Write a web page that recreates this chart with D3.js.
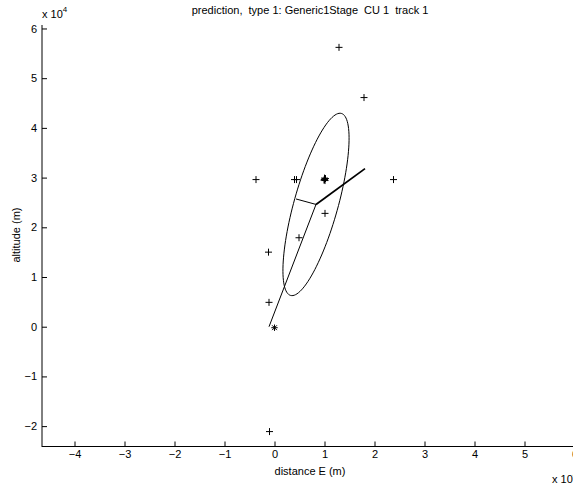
<!DOCTYPE html>
<html>
<head>
<meta charset="utf-8">
<script src="https://cdn.jsdelivr.net/npm/d3@7"></script>
<style>
  body { margin: 0; background: #fff; }
  svg { display: block; font-family: "Liberation Sans", Arial, Helvetica, sans-serif; }
</style>
</head>
<body>
<svg width="573" height="487"></svg>
<script>
const W = 573, H = 487;

// Тики осей (x 10^4)
const xTicks = [-4, -3, -2, -1, 0, 1, 2, 3, 4, 5, 6];
const yTicks = [-2, -1, 0, 1, 2, 3, 4, 5, 6];

// Измерения (+), x 10^4 м
const plusX = [1.29, 1.79, -0.37, 0.40, 0.44, 1.00, 1.02, 0.99, 1.01, 1.00, 2.38, 1.01, 0.49, -0.12, -0.11, -0.10];
const plusY = [5.62, 4.61, 2.96, 2.96, 2.96, 2.96, 2.98, 2.95, 2.94, 2.99, 2.96, 2.28, 1.79, 1.50, 0.49, -2.11];

// Старт (*)
const startPt = [0.0, -0.02];

// Трек: старт -> прогноз
const trackX = [-0.11, 0.83];
const trackY = [0.0, 2.46];
// Вектор скорости (жирный)
const velX = [0.83, 1.81];
const velY = [2.46, 3.18];
// Короткий перпендикуляр
const perpX = [0.83, 0.43];
const perpY = [2.46, 2.57];

// Эллипс ошибки: центр, полуоси, угол (град)
const ellCenter = [0.83, 2.46];
const ellAxes = [1.90, 0.44];
const ellAngle = 74.5;

const svg = d3.select('svg');
const x = d3.scaleLinear().domain([-4.65, 6.3]).range([42, 42 + 10.95 * 50]);
const y = d3.scaleLinear().domain([-2.41, 6.07]).range([446.5, 25]);

// Оси
svg.append('g')
    .attr('transform', `translate(0,${y(-2.41)})`)
    .call(d3.axisBottom(x).tickValues(xTicks).tickSizeInner(-5).tickSizeOuter(0).tickPadding(4)
        .tickFormat(d => d < 0 ? '\u2212' + Math.abs(d) : d))
    .call(g => g.select('.domain').remove())
    .call(g => g.selectAll('text').attr('font-size', 11).attr('fill', '#000').attr('font-family', null))
    .call(g => g.selectAll('line').attr('stroke', '#000'));

svg.append('g')
    .attr('transform', `translate(42,0)`)
    .call(d3.axisLeft(y).tickValues(yTicks).tickSizeInner(-5).tickSizeOuter(0).tickPadding(5)
        .tickFormat(d => d < 0 ? '\u2212' + Math.abs(d) : d))
    .call(g => g.select('.domain').remove())
    .call(g => g.selectAll('text').attr('font-size', 11).attr('fill', '#000').attr('font-family', null))
    .call(g => g.selectAll('line').attr('stroke', '#000'));

svg.append('line')
    .attr('x1', 42).attr('x2', 42).attr('y1', 25).attr('y2', 447)
    .attr('stroke', '#000').attr('stroke-width', 1);
svg.append('line')
    .attr('x1', 42).attr('x2', W).attr('y1', 446.5).attr('y2', 446.5)
    .attr('stroke', '#000').attr('stroke-width', 1);

// Эллипс
const ph = ellAngle * Math.PI / 180;
const ellPts = d3.range(0, 361, 3).map(t => {
    const r = t * Math.PI / 180;
    return [
        ellCenter[0] + ellAxes[0] * Math.cos(ph) * Math.cos(r) - ellAxes[1] * Math.sin(ph) * Math.sin(r),
        ellCenter[1] + ellAxes[0] * Math.sin(ph) * Math.cos(r) + ellAxes[1] * Math.cos(ph) * Math.sin(r)
    ];
});
const line = d3.line().x(d => x(d[0])).y(d => y(d[1])).curve(d3.curveLinear);
svg.append('path')
    .attr('d', line(ellPts))
    .attr('fill', 'none').attr('stroke', '#000').attr('stroke-width', 1);

const seg = (xs, ys, w) => svg.append('path')
    .attr('d', line(xs.map((v, i) => [v, ys[i]])))
    .attr('fill', 'none').attr('stroke', '#000').attr('stroke-width', w);
seg(trackX, trackY, 1);
seg(perpX, perpY, 1);
seg(velX, velY, 1.8);

// Маркеры +
svg.append('g').selectAll('path')
    .data(plusX.map((v, i) => [v, plusY[i]]))
    .join('path')
    .attr('d', d => {
        const px = x(d[0]), py = y(d[1]);
        return `M${px - 3.5},${py}h7M${px},${py - 3.5}v7`;
    })
    .attr('stroke', '#000').attr('stroke-width', 1).attr('fill', 'none');

// Маркер *
{
    const px = x(startPt[0]), py = y(startPt[1]), s = 3.2, d2 = 2.4;
    svg.append('path')
        .attr('d', `M${px - s},${py}h${2 * s}M${px},${py - s}v${2 * s}` +
            `M${px - d2},${py - d2}L${px + d2},${py + d2}M${px - d2},${py + d2}L${px + d2},${py - d2}`)
        .attr('stroke', '#000').attr('stroke-width', 1).attr('fill', 'none');
}

// Надписи
svg.append('text')
    .attr('x', 310).attr('y', 14).attr('text-anchor', 'middle').attr('font-size', 11)
    .attr('xml:space', 'preserve').style('white-space', 'pre')
    .text('prediction,  type 1: Generic1Stage  CU 1  track 1');

svg.append('text')
    .attr('x', 310).attr('y', 475).attr('text-anchor', 'middle').attr('font-size', 11)
    .text('distance E (m)');

svg.append('text')
    .attr('transform', 'translate(20,235) rotate(-90)').attr('text-anchor', 'middle').attr('font-size', 11)
    .text('altitude (m)');

const exp1 = svg.append('text').attr('x', 42).attr('y', 18).attr('font-size', 11);
exp1.append('tspan').text('x 10');
exp1.append('tspan').attr('dy', -6).attr('font-size', 8).text('4');

const exp2 = svg.append('text').attr('x', 552).attr('y', 483).attr('font-size', 11);
exp2.append('tspan').text('x 10');
exp2.append('tspan').attr('dy', -6).attr('font-size', 8).text('4');
</script>
</body>
</html>
